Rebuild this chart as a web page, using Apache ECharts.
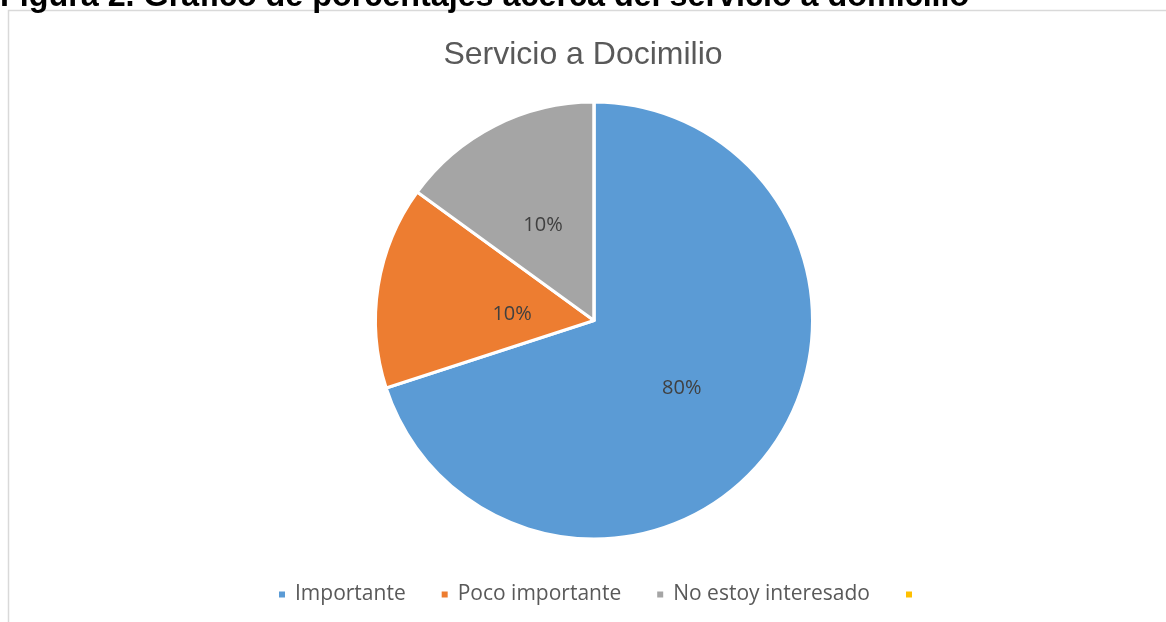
<!DOCTYPE html>
<html>
<head>
<meta charset="utf-8">
<script src="https://cdn.jsdelivr.net/npm/echarts@6/dist/echarts.min.js"></script>
<style>
html,body{margin:0;padding:0;background:#fff;}
#chart{width:1166px;height:622px;}
</style>
</head>
<body>
<div id="chart"></div>
<script>
const categories = ["Importante", "Poco importante", "No estoy interesado", " "];
const values = [70, 15, 15, 0];
const labelTexts = ["80%", "10%", "10%", ""];
const colors = ["#5B9BD5", "#ED7D31", "#A5A5A5", "#FFC000"];
const chartTitle = "Servicio a Docimilio";
const figureCaption = "Figura 2. Gráfico de porcentajes acerca del servicio a domicilio";

// label nudges (style only, applied by index)
const labelNudge = [[-3, 2], [29, 11], [0, 5], [0, 0]];

const chart = echarts.init(document.getElementById('chart'), null, {renderer: 'canvas'});

const data = categories.map((name, i) => ({
  name: name,
  value: values[i],
  itemStyle: {color: colors[i]},
  label: {show: values[i] > 0, formatter: labelTexts[i], offset: labelNudge[i]}
}));

chart.setOption({
  animation: false,
  backgroundColor: '#ffffff',
  graphic: [
    {
      type: 'rect',
      shape: {x: 8.5, y: 10.5, width: 1300, height: 700},
      style: {fill: 'none', stroke: '#d9d9d9', lineWidth: 1.5},
      silent: true
    },
    {
      type: 'text',
      left: 0,
      top: -19,
      style: {
        text: figureCaption,
        font: 'bold 32.3px "Liberation Sans", Arial, sans-serif',
        fill: '#000000'
      }
    }
  ],
  title: {
    text: chartTitle,
    left: 'center',
    top: 34,
    textStyle: {
      fontFamily: '"Liberation Sans", Arial, sans-serif',
      fontWeight: 'normal',
      fontSize: 32,
      color: '#595959'
    }
  },
  legend: {
    bottom: 12,
    left: 272,
    icon: 'rect',
    itemWidth: 8,
    itemHeight: 8,
    itemGap: 34,
    textStyle: {
      fontFamily: '"Open Sans", sans-serif',
      fontSize: 21,
      color: '#595959',
      padding: [0, 0, 0, 4]
    },
    data: categories
  },
  series: [{
    type: 'pie',
    center: [594, 320.5],
    radius: [0, 218.5],
    startAngle: 90,
    clockwise: true,
    label: {
      show: true,
      position: 'inside',
      fontFamily: '"Open Sans", sans-serif',
      fontSize: 20,
      color: '#404040'
    },
    labelLine: {show: false},
    itemStyle: {borderColor: '#ffffff', borderWidth: 3},
    emphasis: {disabled: true},
    data: data
  }]
});
</script>
</body>
</html>
